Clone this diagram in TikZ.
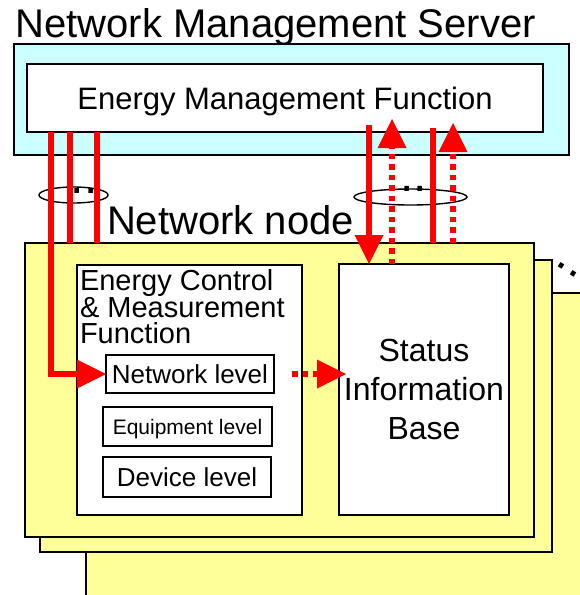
\documentclass[tikz,border=0pt]{standalone}
\usepackage{fontspec}
\setmainfont{Liberation Sans}
\usetikzlibrary{arrows.meta,shapes.geometric}

\definecolor{servercyan}{RGB}{204,255,255}
\definecolor{nodeyellow}{RGB}{255,255,153}

\newcommand{\nodefont}[2]{\fontsize{#1}{#2}\selectfont}

\begin{document}
\begin{tikzpicture}[x=1pt,y=-1pt,>={Triangle[length=29pt,width=29pt,line width=0pt]}]
	\tikzstyle{every node} = [inner sep=0pt,outer sep=0pt];
	\tikzstyle{box} = [draw=black,line width=1.6pt,fill=white,rectangle,anchor=north west,text depth=0pt];
	\tikzstyle{card} = [box,fill=nodeyellow];
	\tikzstyle{feed} = [draw=red,line width=6pt];
	\tikzstyle{report} = [draw=red,line width=5.5pt,dash pattern=on 5.5pt off 5pt];
	\tikzstyle{bundle} = [draw=black,line width=1.4pt,ellipse];
	\useasboundingbox (0,0) rectangle (580,595);

	% management server
	\node[font=\nodefont{40}{48},anchor=base west] (nms) at (15.5,37) {Network Management Server};
	\node[box,fill=servercyan,minimum width=555pt,minimum height=111pt] (server) at (14,44) {};
	\node[box,font=\nodefont{31}{37},minimum width=516pt,minimum height=68pt] (emf) at (27,64) {Energy Management Function};

	% stack of network nodes, back to front
	\node[card,minimum width=540pt,minimum height=350pt] (card3) at (86,293) {};
	\node[card,minimum width=512pt,minimum height=292pt] (card2) at (40,260) {};
	\node[card,minimum width=509pt,minimum height=294pt] (card1) at (25,243) {};
	\node[font=\nodefont{40}{48},anchor=base west] (nn) at (107,234) {Network node};
	\node[font=\nodefont{48}{48},anchor=base,rotate=-32] (more) at (566,272) {..};

	% control function with its levels
	\node[box,minimum width=225pt,minimum height=250pt] (ecmf) at (77,265) {};
	\node[font=\nodefont{29}{26},align=left,anchor=north west] (ecmflabel) at (80,269) {Energy Control\\\& Measurement\\Function};
	\node[box,font=\nodefont{26}{31},minimum width=168pt,minimum height=38pt] (netlvl) at (106,355) {Network level};
	\node[box,font=\nodefont{21}{25},minimum width=169pt,minimum height=39pt] (equiplvl) at (103,407) {Equipment level};
	\node[box,font=\nodefont{26}{31},minimum width=168pt,minimum height=40pt] (devlvl) at (103,457) {Device level};
	\node[box,font=\nodefont{32}{39},align=center,minimum width=170pt,minimum height=251pt] (sib) at (339,264) {Status\\Information\\Base};

	% bundles of links
	\node[bundle,minimum width=69pt,minimum height=16pt] (bundleL) at (73.5,195) {};
	\node[bundle,minimum width=113pt,minimum height=16pt] (bundleR) at (410.5,197) {};
	\node[font=\nodefont{48}{48},anchor=base] (dotsL) at (84,193.5) {..};
	\node[font=\nodefont{48}{48},anchor=base] (dotsR) at (413.5,191.5) {..};

	% commands down
	\draw[feed,->] ([xshift=24pt]emf.south west) |- (netlvl.west);
	\draw[feed] ([xshift=43pt]emf.south west) -- ([xshift=45pt]card1.north west);
	\draw[feed] ([xshift=70pt]emf.south west) -- ([xshift=72pt]card1.north west);
	\draw[feed,->] ([xshift=342pt,yshift=7pt]emf.south west) -- ([xshift=30pt]sib.north west);
	\draw[feed] ([xshift=406pt,yshift=4pt]emf.south west) -- ([xshift=408pt]card1.north west);

	% reports up
	\draw[report,->] ([xshift=53pt]sib.north west) -- ([xshift=365pt,yshift=13pt]emf.south west);
	\draw[report,->] ([xshift=428pt]card1.north west) -- ([xshift=426pt,yshift=9pt]emf.south west);
	\draw[report,->,shorten <=18pt,shorten >=-7pt] (netlvl.east) -- (netlvl.east -| sib.west);
\end{tikzpicture}
\end{document}
